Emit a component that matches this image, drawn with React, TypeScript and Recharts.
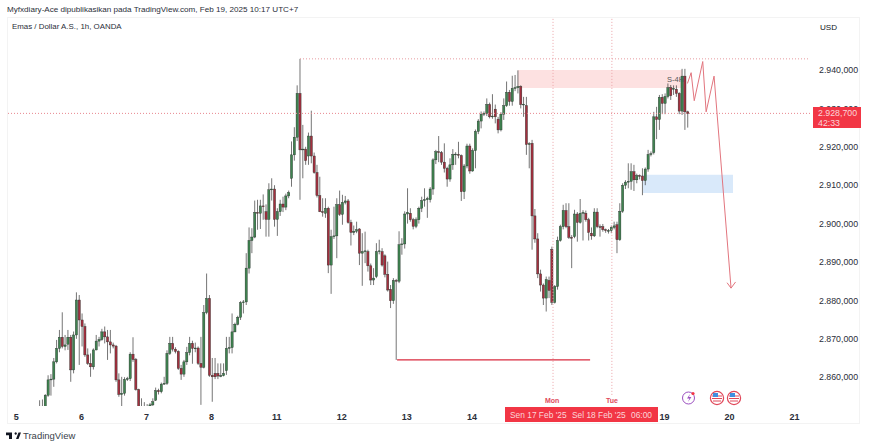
import { Bar, ComposedChart, Line, ReferenceArea, ReferenceLine, XAxis, YAxis } from "recharts";

type Candle = [number, number, number, number]; // open, high, low, close

const firstSlot = 8;

const session5: Candle[] = [
  [2852, 2854, 2850, 2851.5], [2851.5, 2854.2, 2850, 2852], [2852, 2855.6, 2851, 2855.3],
  [2855.3, 2860.5, 2854.9, 2859.3], [2859.3, 2860.8, 2855.2, 2859.5], [2859.5, 2865, 2857.5, 2864],
  [2864, 2869.7, 2863.6, 2867.5], [2867.5, 2872.3, 2866.5, 2870.4], [2870.4, 2876.9, 2867.5, 2868],
  [2868, 2871, 2867, 2868.4], [2868.6, 2872.3, 2867.1, 2870.4], [2870.4, 2871, 2858.8, 2861.9],
  [2861.9, 2871.9, 2861, 2871], [2871, 2882.1, 2870, 2880.1], [2880.1, 2881.4, 2863.2, 2874.9],
];
const session6: Candle[] = [
  [2874.9, 2876.6, 2868, 2873.2], [2873.2, 2874, 2865.3, 2865.8], [2865.8, 2867.5, 2863.2, 2863.6],
  [2863.6, 2866.2, 2860.1, 2862.7], [2862.7, 2867.5, 2862, 2867.1], [2867.1, 2871, 2867, 2869.4],
  [2869.4, 2870.5, 2868, 2869.8], [2869.8, 2872.6, 2869.5, 2871.8], [2871.8, 2873.2, 2868.8, 2870.5],
  [2870.5, 2872.3, 2864.5, 2869.2], [2869.2, 2872.3, 2866.2, 2868.4], [2868.4, 2869, 2867.5, 2868.1],
  [2868.1, 2868.4, 2858.8, 2859.3], [2859.3, 2861, 2854.9, 2855.5], [2855.5, 2860.1, 2852.3, 2855.8],
  [2855.8, 2860, 2855.2, 2859.4], [2859.4, 2860.1, 2859, 2859.6], [2859.6, 2866.5, 2859, 2866],
  [2866, 2870.4, 2864, 2864.6], [2864.6, 2865, 2856.5, 2856.8], [2856.8, 2857, 2851, 2851.5],
  [2851.5, 2854.5, 2850, 2851], [2851, 2853.5, 2850, 2851.2],
];
const session7: Candle[] = [
  [2851.3, 2853, 2850.5, 2851.7], [2852.5, 2853.3, 2852, 2852.8], [2852.8, 2854.5, 2852.3, 2853.6],
  [2854, 2857.3, 2853.8, 2856.5], [2856.5, 2857, 2855.5, 2856.2], [2856.2, 2858.6, 2855.8, 2858.2],
  [2858.2, 2860.1, 2858, 2858.4], [2858.4, 2867, 2858, 2866.2], [2866.2, 2870.5, 2865.8, 2868.8],
  [2868.8, 2870.5, 2866.7, 2867.3], [2867.3, 2867.8, 2866.2, 2866.7], [2866.7, 2867, 2861.9, 2862.3],
  [2862.3, 2863.2, 2859.3, 2860.8], [2860.8, 2864.5, 2860.1, 2864], [2864, 2867.9, 2863.2, 2866.4],
  [2866.4, 2870.5, 2865.7, 2868.8], [2868.8, 2869.5, 2863.5, 2867.5], [2867.5, 2869, 2866.5, 2867.6],
  [2867.6, 2868, 2863.2, 2863.6], [2863.6, 2870.5, 2852.8, 2862.6], [2862.6, 2878.8, 2862.3, 2876.8],
  [2876.8, 2887, 2876.4, 2880.5], [2880.5, 2881.4, 2860.1, 2860.5],
];
const session8: Candle[] = [
  [2860.5, 2865, 2853.6, 2860.1], [2861, 2865, 2859.5, 2860.1], [2861, 2863.6, 2859.5, 2860.3],
  [2860.3, 2863.6, 2860, 2860.4], [2860.4, 2863.6, 2860.2, 2861], [2861.7, 2870.5, 2860.6, 2867.5],
  [2867.5, 2870.5, 2866.2, 2867.7], [2867.7, 2876.6, 2866.2, 2871.8], [2871.8, 2874.2, 2871.7, 2873.8],
  [2873.8, 2876, 2873.5, 2875.6], [2875.6, 2879.8, 2874.9, 2879.4], [2879.4, 2880.1, 2876.6, 2879.6],
  [2879.6, 2892.3, 2878.8, 2888.4], [2888.4, 2899, 2887, 2895.6], [2895.6, 2898.8, 2892.3, 2896.5],
  [2896.5, 2906, 2896.2, 2902.9], [2902.9, 2906.2, 2898.4, 2902.7], [2902.7, 2906.2, 2898.6, 2904.6],
  [2904.6, 2907.6, 2901, 2904.4], [2903.1, 2905, 2896.6, 2901.1], [2901.1, 2910.5, 2896.6, 2908.8],
  [2908.8, 2911.8, 2906, 2909], [2909, 2910, 2899.2, 2901.1],
];
const session11: Candle[] = [
  [2901.1, 2904, 2896.8, 2903.1], [2903.1, 2906.2, 2902, 2905.1], [2905.1, 2907, 2903, 2904.3],
  [2904.3, 2907.8, 2903.5, 2907.2], [2907.2, 2908.6, 2906.6, 2908.1], [2911.8, 2921.4, 2909.6, 2917.9],
  [2917.9, 2925.1, 2916.4, 2922.5], [2922.5, 2936, 2921.5, 2933.9], [2933.9, 2942.9, 2906.2, 2919.2],
  [2919.2, 2925.7, 2911.8, 2919.4], [2919.4, 2920, 2915.3, 2916.4], [2917.6, 2923.7, 2915.3, 2922.8],
  [2922.8, 2929.4, 2915.7, 2917.6], [2917.6, 2918.5, 2913, 2913.3], [2913.3, 2915.3, 2906.8, 2907.3],
  [2907.3, 2912.2, 2903, 2903.1], [2903.1, 2906.6, 2901.8, 2902.9], [2902.7, 2906.6, 2901.5, 2904],
  [2904, 2904.4, 2887.1, 2889.2], [2889.2, 2898.4, 2881.7, 2896.6], [2896.6, 2904.4, 2896, 2896.8],
  [2896.8, 2906.6, 2891, 2904.9], [2904.9, 2908.6, 2902, 2902.4],
];
const session12: Candle[] = [
  [2902.4, 2907.5, 2899.7, 2905.5], [2905.5, 2907.2, 2905, 2905.9], [2905.9, 2906.4, 2900, 2900.3],
  [2900.3, 2901, 2894.3, 2897.7], [2897.7, 2899.5, 2897, 2898], [2898, 2900.5, 2897.5, 2898.4],
  [2898.6, 2898.8, 2889.2, 2892.3], [2892.3, 2897.5, 2883.8, 2892.7], [2892.7, 2897.9, 2889.7, 2892.9],
  [2892.7, 2893.2, 2887.5, 2889], [2889, 2889.6, 2884, 2885.3], [2885.3, 2888.4, 2884, 2885.8],
  [2886.2, 2894.9, 2885.8, 2892.7], [2892.7, 2895.8, 2892, 2892.9], [2892.7, 2893.6, 2888.8, 2889.2],
  [2891.6, 2892, 2886, 2886.8], [2886.8, 2890.1, 2882.3, 2882.7], [2882.9, 2884, 2878, 2879.9],
  [2879.9, 2885.8, 2879.1, 2885.2], [2885.2, 2885.6, 2864.5, 2885], [2885, 2898, 2884.5, 2894.5],
  [2894.5, 2896.2, 2891.9, 2894.7], [2894.7, 2903.2, 2893.5, 2902.5],
];
const session13: Candle[] = [
  [2902.5, 2909.2, 2900, 2902.9], [2902.7, 2904, 2900.5, 2901], [2901, 2901.5, 2898.5, 2899.3],
  [2899.3, 2901.6, 2898.8, 2901], [2901, 2904.4, 2900, 2904], [2904, 2907, 2903, 2906],
  [2906, 2909.2, 2904.4, 2906.2], [2906.2, 2907, 2901.5, 2906.5], [2906.2, 2909.5, 2905.5, 2909],
  [2909, 2917, 2907.5, 2916.6], [2916.6, 2919.2, 2915.5, 2918.7], [2918.7, 2922.8, 2916, 2918.6],
  [2918.5, 2918.9, 2915.3, 2916], [2916, 2920.9, 2913.3, 2914.4], [2914.4, 2914.8, 2909.6, 2911.6],
  [2911.6, 2917, 2910.9, 2915.3], [2915.3, 2919.4, 2914, 2918], [2918, 2918.6, 2915.3, 2918.1],
  [2918, 2921.3, 2917, 2917.9], [2917.7, 2918, 2905.9, 2908.3], [2908.3, 2915.5, 2906.4, 2915],
  [2915, 2920.8, 2914.4, 2920.2], [2920.2, 2920.8, 2913, 2913.7],
];
const session14: Candle[] = [
  [2913.7, 2919.6, 2913.5, 2919], [2919, 2924.5, 2914.4, 2924], [2924, 2927.2, 2923.3, 2926.7],
  [2926.7, 2929.2, 2924.8, 2928.5], [2928.5, 2929.2, 2928, 2928.7], [2928.7, 2932.6, 2928, 2931],
  [2931, 2931.5, 2927.4, 2927.8], [2927.8, 2933.7, 2927.3, 2928], [2929.8, 2931, 2926.1, 2927.8],
  [2927.2, 2927.8, 2923.5, 2924.4], [2924.4, 2929, 2924, 2928.5], [2928.5, 2932.6, 2927, 2930.7],
  [2930.7, 2937, 2930.4, 2934.2], [2934.2, 2934.8, 2930.7, 2931.8], [2931.8, 2938.5, 2930.7, 2935.2],
  [2935.2, 2938.7, 2934.5, 2935.4], [2935.4, 2939.9, 2933.9, 2935.7], [2935.7, 2936, 2930, 2931],
  [2931, 2933, 2927.8, 2931.1], [2930.7, 2933, 2917.9, 2920.6], [2920.6, 2921.2, 2914.4, 2920.8],
  [2920.9, 2921.8, 2893.2, 2902], [2902, 2903.8, 2895, 2896],
];
const session17: Candle[] = [
  [2896, 2897.5, 2885.8, 2886.9], [2886.9, 2888, 2882.3, 2884], [2884, 2884.4, 2878.8, 2880.6],
  [2880.6, 2886.2, 2877.1, 2885.4], [2885.2, 2886.2, 2880.6, 2882.6], [2893.3, 2894, 2878.8, 2879.5],
  [2879.5, 2884, 2879.2, 2883.6], [2883.6, 2896.6, 2882.8, 2895.6], [2895.6, 2899.7, 2895.3, 2899.2],
  [2899.2, 2904.9, 2898.5, 2903.4], [2903.4, 2905.3, 2898.8, 2899.2], [2899.2, 2905.3, 2896, 2896.4],
  [2896.4, 2897, 2888.4, 2896.2], [2896.6, 2903.6, 2896.2, 2902.5], [2902.5, 2903, 2895.3, 2900.3],
  [2900.3, 2906.4, 2900, 2902.7], [2902.7, 2903.5, 2895.6, 2902.9], [2902.7, 2903.4, 2900.5, 2901],
  [2901, 2901.5, 2895.6, 2897.7], [2897.5, 2899, 2895.8, 2896.8], [2896.8, 2904, 2896.5, 2903],
  [2903, 2904, 2898.8, 2899.2], [2899.2, 2899.8, 2896.6, 2899],
];
const session18: Candle[] = [
  [2899.2, 2899.9, 2897.9, 2898.4], [2898.4, 2898.7, 2897.6, 2898.2], [2898.2, 2898.6, 2897.4, 2898.2],
  [2898.2, 2899.5, 2897.5, 2899], [2899, 2900.5, 2898.5, 2899.4], [2899.7, 2900.5, 2892.3, 2895.8],
  [2895.8, 2905.3, 2895.5, 2903.2], [2903.2, 2910.5, 2902.8, 2910], [2910, 2911.3, 2909, 2910.8],
  [2910.8, 2915.7, 2909.2, 2911], [2911, 2915.7, 2908.8, 2913.5], [2913.5, 2915.3, 2908.5, 2911.4],
  [2911.4, 2913, 2910.5, 2912.5], [2912.5, 2912.8, 2911.5, 2912.4], [2912.4, 2914.4, 2907.4, 2911.2],
  [2911.2, 2914.6, 2910, 2914.2], [2914.2, 2919.2, 2913.5, 2918], [2918, 2918.8, 2917.5, 2918.2],
  [2918.5, 2929.1, 2918, 2927.8], [2927.8, 2930.4, 2922, 2927.1], [2927.1, 2933.5, 2924.4, 2932.9],
  [2932.9, 2933.7, 2928.5, 2931.3], [2931.3, 2933.9, 2928.5, 2933.1],
];
const session19: Candle[] = [
  [2933.1, 2936.5, 2932.6, 2935.4], [2935.4, 2936.1, 2932.2, 2933.3], [2935, 2936, 2933.5, 2935.2],
  [2935, 2936, 2933, 2933.9], [2933.9, 2934.2, 2928.5, 2929.3], [2929.3, 2940.3, 2928.3, 2938.4],
  [2938.4, 2940.3, 2924.4, 2929.1], [2929.1, 2929.4, 2925, 2928.7],
];

const tickSlots = [0, 23, 46, 69, 92, 115, 138, 161, 229, 252, 275];
const tickLabels = ["5", "6", "7", "8", "11", "12", "13", "14", "19", "20", "21"];
const priceTicks = [2860, 2870, 2880, 2890, 2900, 2910, 2920, 2930, 2940];

const forecast = [
  { slot: 236.9, price: 2936.5 }, { slot: 238.2, price: 2939.3 }, { slot: 239.3, price: 2932 },
  { slot: 242.3, price: 2942.2 }, { slot: 243.5, price: 2929.1 }, { slot: 246.3, price: 2938.4 },
  { slot: 252.3, price: 2883.2 },
];
const arrowHead = [
  { slot: 250.9, price: 2884.6 }, { slot: 252.3, price: 2883.2 }, { slot: 253.9, price: 2884.8 },
];

const rows = [session5, session6, session7, session8, session11, session12, session13, session14, session17, session18, session19]
  .flat()
  .map((c, k) => ({ slot: firstSlot + k, open: c[0], high: c[1], low: c[2], close: c[3], span: [c[2], c[1]] }));

const formatPrice = (v: number) => {
  const s = v.toFixed(3).replace(".", ",");
  return s[0] + "." + s.slice(1);
};

const CandleShape = (props: any) => {
  const { x, y, width, height, payload } = props;
  const k = height / (payload.high - payload.low || 1);
  const up = payload.close >= payload.open;
  const top = y + (payload.high - Math.max(payload.open, payload.close)) * k;
  const h = Math.max(Math.abs(payload.close - payload.open) * k, 0.8);
  const cx = x + width / 2;
  return (
    <g>
      <line x1={cx} x2={cx} y1={y} y2={y + height} stroke="#3a3a3a" strokeWidth={0.7} />
      <rect x={cx - 1.1} y={top} width={2.2} height={h} fill={up ? "#3f8350" : "#a3303f"} stroke="#26302a" strokeWidth={0.4} />
    </g>
  );
};

const font = "'Liberation Sans', Arial, sans-serif";
const label = (left: number, top: number, text: string, style: React.CSSProperties = {}) => (
  <div style={{ position: "absolute", left, top, whiteSpace: "nowrap", font: `8.1px/12px ${font}`, color: "#2a2e39", ...style }}>{text}</div>
);

const Flag = ({ cx }: { cx: number }) => (
  <g>
    <circle cx={cx} cy={398} r={6.6} fill="#fff" stroke="#e0485a" strokeWidth={1.2} />
    <path d={`M${cx - 5} 396h10M${cx - 5} 398.5h10M${cx - 4} 401h8`} stroke="#e0485a" strokeWidth={1} />
    <rect x={cx - 4} y={393} width={5} height={4} fill="#3f8fe0" />
  </g>
);

export default function App() {
  return (
    <div style={{ position: "absolute", left: 0, top: 0, width: 870, height: 447, background: "#fff", overflow: "hidden" }}>
      <div style={{ position: "absolute", left: 7, top: 17, width: 853, height: 407, border: "1px solid #f3f3f3", boxSizing: "border-box" }} />
      <div style={{ position: "absolute" }}>
        <ComposedChart width={870} height={447} data={rows} margin={{ top: 17, right: 10, bottom: 23, left: 7 }}>
          <XAxis
            dataKey="slot"
            type="number"
            domain={[-3.53, 280.2]}
            allowDataOverflow
            ticks={tickSlots}
            tickFormatter={(v: number) => tickLabels[tickSlots.indexOf(v)]}
            interval={0}
            axisLine={false}
            tickLine={false}
            height={18}
            tick={{ fontSize: 9, fontWeight: 700, fill: "#2a2e39", fontFamily: font, dx: -0.7, dy: 0 }}
          />
          <YAxis
            orientation="right"
            type="number"
            domain={[2852.5, 2953.8]}
            allowDataOverflow
            ticks={priceTicks}
            tickFormatter={formatPrice}
            interval={0}
            axisLine={false}
            tickLine={false}
            width={50}
            tick={{ fontSize: 8.8, fill: "#2a2e39", fontFamily: font, dx: 1 }}
          />
          <ReferenceArea x1={177} x2={235} y1={2935.3} y2={2940} fill="#fde1e1" fillOpacity={1} stroke="none" />
          <ReferenceArea x1={221.2} x2={253} y1={2908} y2={2912.7} fill="#d9e9fa" fillOpacity={1} stroke="none" />
          <ReferenceLine segment={[{ x: 100, y: 2942.9 }, { x: 280.2, y: 2942.9 }]} stroke="#e79a9f" strokeDasharray="1 2" />
          <ReferenceLine y={2928.7} stroke="#e8878f" strokeDasharray="1 2" />
          <ReferenceLine segment={[{ x: 189.4, y: 2855.4 }, { x: 189.4, y: 2953.8 }]} stroke="#eba3a8" strokeDasharray="1 2" />
          <ReferenceLine segment={[{ x: 210.2, y: 2855.4 }, { x: 210.2, y: 2953.8 }]} stroke="#eba3a8" strokeDasharray="1 2" />
          <ReferenceLine segment={[{ x: 134.3, y: 2864.5 }, { x: 202.5, y: 2864.5 }]} stroke="#d92b3e" strokeWidth={1.2} />
          <Bar dataKey="span" barSize={3} isAnimationActive={false} shape={CandleShape} />
          <Line data={forecast} dataKey="price" stroke="#e2757e" strokeWidth={1} dot={false} isAnimationActive={false} legendType="none" />
          <Line data={arrowHead} dataKey="price" stroke="#e2757e" strokeWidth={1} dot={false} isAnimationActive={false} legendType="none" />
        </ComposedChart>
      </div>

      {label(7, 4, "Myfxdiary-Ace dipublikasikan pada TradingView.com, Feb 19, 2025 10:17 UTC+7")}
      {label(12, 21, "Emas / Dollar A.S., 1h, OANDA", { fontSize: 7.9 })}
      {label(820, 22, "USD", { color: "#131722" })}
      {label(667, 74, "S-4H", { fontSize: 7.5, color: "#555" })}

      <div style={{ position: "absolute", left: 813, top: 107, width: 48, height: 21, background: "#f23645", color: "#fbd5d8", font: `8.8px/10px ${font}`, paddingLeft: 5, paddingTop: 1, boxSizing: "border-box" }}>
        2.928,700
        <br />
        42:33
      </div>

      {label(545, 395, "Mon", { color: "#e0485a", fontWeight: 700, fontSize: 7 })}
      {label(606, 395, "Tue", { color: "#e0485a", fontWeight: 700, fontSize: 7 })}
      <div style={{ position: "absolute", left: 505, top: 407, width: 153, height: 15, background: "#f23645" }} />
      {label(510, 408, "Sen 17 Feb '25", { color: "#fbd5d8", lineHeight: "14px", fontSize: 8.4 })}
      {label(572, 408, "Sel 18 Feb '25", { color: "#fbd5d8", lineHeight: "14px", fontSize: 8.4 })}
      {label(631, 408, "06:00", { color: "#fbd5d8", lineHeight: "14px", fontSize: 8.4 })}

      <svg width={870} height={447} style={{ position: "absolute", left: 0, top: 0 }}>
        <circle cx={688.5} cy={398} r={6} fill="#fff" stroke="#9b4fc0" strokeWidth={1} />
        <path d="M690 394l-3 4.5h2.4l-1.4 3.5 3.4-5h-2.4z" fill="#9b4fc0" />
        <circle cx={693} cy={393.5} r={1.6} fill="#f23645" />
        <Flag cx={717} />
        <Flag cx={734} />
        <path d="M6 432.5h6v6.5H9v-3.8H6zM14.5 433.5a1.2 1.2 0 1 1 0 .01zM16 439l2.5-6.5H21l-2.5 6.5z" fill="#131722" />
      </svg>
      {label(23, 430, "TradingView", { fontSize: 9.5, color: "#3a3f4a" })}
    </div>
  );
}
